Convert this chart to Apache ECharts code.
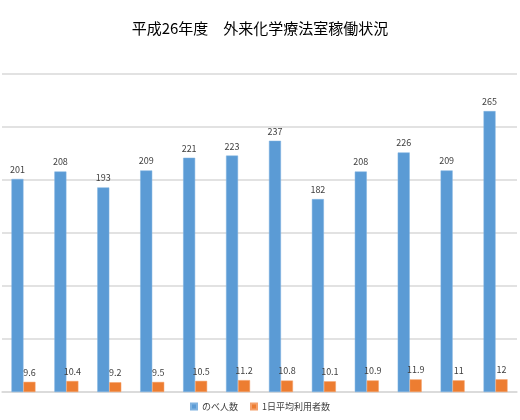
<!DOCTYPE html>
<html>
<head>
<meta charset="utf-8">
<script src="https://cdn.jsdelivr.net/npm/echarts@6/dist/echarts.min.js"></script>
<style>
  html, body { margin: 0; padding: 0; background: #fff; }
  #chart { width: 520px; height: 420px; }
</style>
</head>
<body>
<div id="chart"></div>
<script>
// months of FY H26 (no labels drawn in the original)
var months = ['4月', '5月', '6月', '7月', '8月', '9月', '10月', '11月', '12月', '1月', '2月', '3月'];
var totalPatients = [201, 208, 193, 209, 221, 223, 237, 182, 208, 226, 209, 265];
var dailyAverage = [9.6, 10.4, 9.2, 9.5, 10.5, 11.2, 10.8, 10.1, 10.9, 11.9, 11, 12];
var seriesNames = ['のべ人数', '1日平均利用者数'];

function renderChart(chartDivId) {
    var chart = echarts.init(document.getElementById(chartDivId));
    var font = '"Noto Sans CJK JP", "Noto Sans", sans-serif';

    var labelStyle = {
        show: true,
        position: 'top',
        distance: 5,
        fontSize: 9,
        color: '#404040',
        fontFamily: font
    };

    var options = {
        animation: false,
        title: {
            text: '平成26年度　外来化学療法室稼働状況',
            left: 'center',
            top: 16,
            textStyle: {
                fontSize: 15,
                fontWeight: 'normal',
                color: '#000',
                fontFamily: font
            }
        },
        legend: {
            data: seriesNames,
            bottom: 4,
            left: 'center',
            itemWidth: 6,
            itemHeight: 6,
            itemGap: 12,
            icon: 'rect',
            textStyle: {
                fontSize: 9,
                color: '#404040',
                fontFamily: font
            }
        },
        grid: {
            left: 2,
            right: 3,
            top: 74,
            bottom: 28,
            containLabel: false
        },
        xAxis: {
            type: 'category',
            data: months,
            axisLine: { lineStyle: { color: '#d9d9d9', width: 1.5 } },
            axisTick: { show: false },
            axisLabel: { show: false }
        },
        yAxis: {
            type: 'value',
            min: 0,
            max: 300,
            interval: 50,
            axisLabel: { show: false },
            axisLine: { show: false },
            axisTick: { show: false },
            splitLine: { lineStyle: { color: '#d9d9d9', width: 1.5 } }
        },
        color: ['#5b9bd5', '#ed7d31'],
        series: [
            {
                name: seriesNames[0],
                type: 'bar',
                data: totalPatients,
                barWidth: 12,
                barGap: '0%',
                itemStyle: { borderColor: '#7fb2e0', borderWidth: 0.5 },
                label: labelStyle
            },
            {
                name: seriesNames[1],
                type: 'bar',
                data: dailyAverage,
                barWidth: 12,
                itemStyle: { borderColor: '#f4a06a', borderWidth: 0.5 },
                label: labelStyle
            }
        ]
    };

    chart.setOption(options);
}

renderChart('chart');
</script>
</body>
</html>
